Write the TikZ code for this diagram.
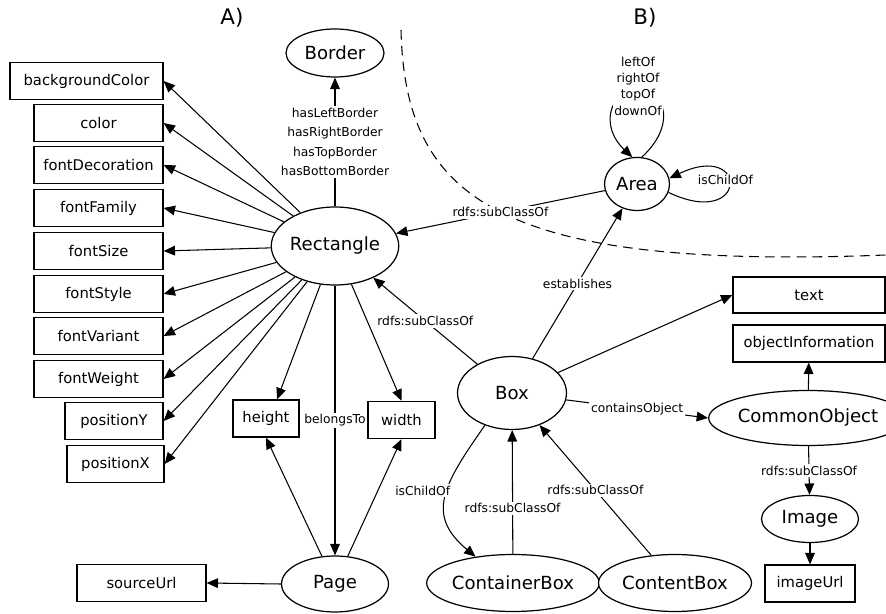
\documentclass[tikz,border=0pt]{standalone}
\usepackage{fontspec}
\setmainfont{DejaVu Sans}
\usetikzlibrary{shapes.geometric}
\usetikzlibrary{arrows.meta}
\pgfdeclarelayer{background}
\pgfdeclarelayer{foreground}
\pgfsetlayers{background,main,foreground}

\begin{document}
\begin{tikzpicture}[x=0.02cm,y=-0.02cm,
							classnode/.style={ellipse, draw=black, fill=white, line width=0.7pt, inner sep=0pt, font=\fontsize{10.3}{12}\selectfont},
							propbox/.style={rectangle, draw=black, fill=white, line width=0.7pt, inner sep=0pt, minimum height=0.74cm, font=\fontsize{8.4}{10}\selectfont},
							rel/.style={line width=0.6pt, -{Triangle[length=6.5pt,width=5.5pt]}},
							rellabel/.style={fill=white, inner sep=1pt, font=\fontsize{7}{9}\selectfont},
							]
							\useasboundingbox (0,0) rectangle (886,614);
							%Nodes
							\node[font=\fontsize{12.2}{14}\selectfont]	(labelA)	at	(232,18)	{A)};
							\node[font=\fontsize{12.2}{14}\selectfont]	(labelB)	at	(645,18)	{B)};
							\node[classnode, minimum width=1.96cm, minimum height=0.96cm]	(border)	at	(335,53)	{Border};
							\node[classnode, minimum width=2.14cm, minimum height=1.56cm]	(rect)	at	(335,246)	{Rectangle};
							\node[classnode, minimum width=2.14cm, minimum height=1.12cm]	(page)	at	(335,584)	{Page};
							\node[classnode, minimum width=1.30cm, minimum height=1.06cm]	(area)	at	(637,184)	{Area};
							\node[classnode, minimum width=2.18cm, minimum height=1.46cm]	(box)	at	(512,393)	{Box};
							\node[classnode, minimum width=3.14cm, minimum height=1.10cm]	(commonobj)	at	(808,418)	{CommonObject};
							\node[classnode, minimum width=1.94cm, minimum height=0.94cm]	(image)	at	(810,519)	{Image};
							\node[classnode, minimum width=3.04cm, minimum height=1.14cm]	(containerbox)	at	(513,583)	{ContainerBox};
							\node[classnode, minimum width=3.06cm, minimum height=1.14cm]	(contentbox)	at	(675,583)	{ContentBox};

							\node[propbox, minimum width=3.06cm]	(bgcolor)	at	(86.5,81)	{backgroundColor};
							\node[propbox, minimum width=2.58cm]	(color)	at	(98.5,123)	{color};
							\node[propbox, minimum width=2.58cm]	(fontdeco)	at	(98.5,165)	{fontDecoration};
							\node[propbox, minimum width=2.58cm]	(fontfam)	at	(98.5,208)	{fontFamily};
							\node[propbox, minimum width=2.58cm]	(fontsize)	at	(98.5,251)	{fontSize};
							\node[propbox, minimum width=2.58cm]	(fontstyle)	at	(98.5,294)	{fontStyle};
							\node[propbox, minimum width=2.58cm]	(fontvar)	at	(98.5,336)	{fontVariant};
							\node[propbox, minimum width=2.58cm]	(fontweight)	at	(98.5,379)	{fontWeight};
							\node[propbox, minimum width=1.96cm]	(posy)	at	(114,421)	{positionY};
							\node[propbox, minimum width=1.94cm]	(posx)	at	(115.5,464)	{positionX};
							\node[propbox, minimum width=1.32cm]	(height)	at	(266,418.5)	{height};
							\node[propbox, minimum width=1.34cm]	(width)	at	(401.5,420)	{width};
							\node[propbox, minimum width=2.58cm]	(sourceurl)	at	(141.5,583)	{sourceUrl};
							\node[propbox, minimum width=3.04cm, minimum height=0.72cm]	(text)	at	(809,295)	{text};
							\node[propbox, minimum width=3.04cm]	(objinfo)	at	(809,343.5)	{objectInformation};
							\node[propbox, minimum width=1.80cm]	(imageurl)	at	(810,583.5)	{imageUrl};
							\coordinate	(looptop)	at	(638,88);

							\begin{pgfonlayer}{background}
							\draw[line width=0.6pt, dash pattern=on 5.5pt off 3.5pt] (401,30) .. controls (405,200) and (500,270) .. (886,255);

							\draw[rel] (rect) -- (bgcolor.east);
							\draw[rel] (rect) -- (color.east);
							\draw[rel] (rect) -- (fontdeco.east);
							\draw[rel] (rect) -- (fontfam.east);
							\draw[rel] (rect) -- (fontsize.east);
							\draw[rel] (rect) -- (fontstyle.east);
							\draw[rel] (rect) -- (fontvar.east);
							\draw[rel] (rect) -- (fontweight.east);
							\draw[rel] (rect) -- (posy.east);
							\draw[rel] (rect) -- (posx.east);
							\draw[rel] (rect) -- (height.60);
							\draw[rel] (rect) -- (width.north);
							\draw[rel] (rect.south) -- node[rellabel] {belongsTo} (page.north);
							\draw[rel] (rect.north) -- node[rellabel, align=center, font=\fontsize{7}{11}\selectfont] {hasLeftBorder\\hasRightBorder\\hasTopBorder\\hasBottomBorder} (border.south);
							\draw[rel] (page) -- (height.south);
							\draw[rel] (page) -- (width.south);
							\draw[rel] (page.west) -- (sourceurl.east);

							\draw[rel] (area) -- node[rellabel] {rdfs:subClassOf} (rect);
							\draw[rel] (area.80) .. controls +(33,-30) and +(30,4) .. (looptop) .. controls +(-30,4) and +(-32,-30) .. (area.100);
							\node[rellabel, align=center, font=\fontsize{7}{9.3}\selectfont] (looplabel) at (638,86) {leftOf\\rightOf\\topOf\\downOf};
							\draw[rel] (area.345) .. controls +(80,38) and +(80,-38) .. node[rellabel, pos=0.5, xshift=-0.07cm, yshift=0.1cm] {isChildOf} (area.10);

							\draw[rel] (box) -- node[rellabel] {rdfs:subClassOf} (rect);
							\draw[rel] (box) -- node[rellabel] {establishes} (area);
							\draw[rel] (box) -- (text.west);
							\draw[rel] (box) -- node[rellabel] {containsObject} (commonobj.west);
							\draw[rel] (box.230) .. controls +(-42,60) and +(-50,-42) .. node[rellabel, pos=0.5, xshift=-0.46cm, yshift=0.14cm] {isChildOf} (containerbox.145);
							\draw[rel] (containerbox) -- node[rellabel, pos=0.37] {rdfs:subClassOf} (box);
							\draw[rel] (contentbox) -- node[rellabel] {rdfs:subClassOf} (box);
							\draw[rel] (commonobj) -- (objinfo);
							\draw[rel] (commonobj) -- node[rellabel] {rdfs:subClassOf} (image);
							\draw[rel] (image) -- (imageurl);
							\end{pgfonlayer}
						\end{tikzpicture}
\end{document}
